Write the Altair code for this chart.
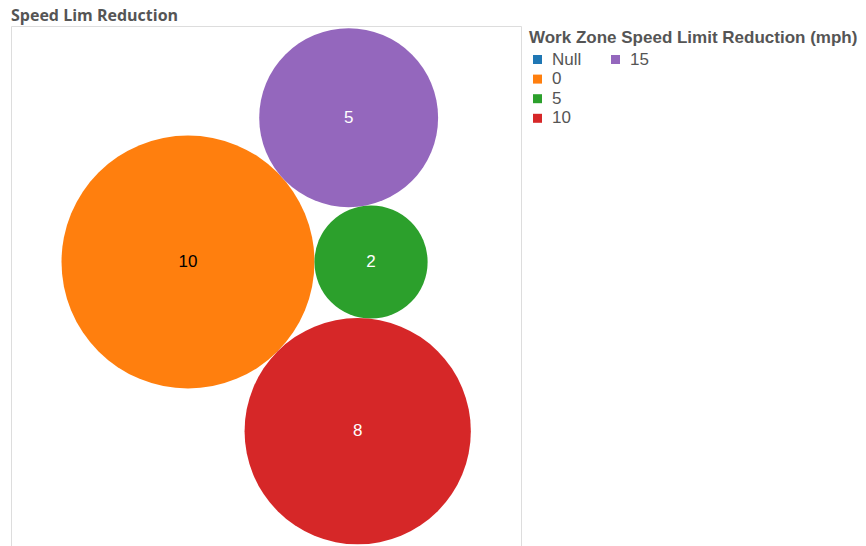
import math
import altair as alt
import pandas as pd

# ---- data ----
legend_categories = ["Null", "0", "5", "10", "15"]
legend_colors = ["#1f77b4", "#ff7f0e", "#2ca02c", "#d62728", "#9467bd"]
bubble_categories = ["0", "5", "15", "10"]   # packing order: largest, then neighbours
bubble_counts = [10, 2, 5, 8]

# ---- simple tangent circle packing (layout, computed) ----
K = 40.0  # px of radius per sqrt(count)
radii = [K * math.sqrt(v) for v in bubble_counts]


def tangent(ax, ay, ra, bx, by, rb, r, side):
    da, db = ra + r, rb + r
    dx, dy = bx - ax, by - ay
    d = math.hypot(dx, dy)
    a = (da * da - db * db + d * d) / (2 * d)
    h = math.sqrt(max(da * da - a * a, 0))
    ux, uy = dx / d, dy / d
    return ax + a * ux - side * h * uy, ay + a * uy + side * h * ux


xs = [0.0, radii[0] + radii[1]]
ys = [0.0, 0.0]
for i, side in zip(range(2, len(radii)), [-1, 1]):
    px, py = tangent(xs[0], ys[0], radii[0], xs[1], ys[1], radii[1], radii[i], side)
    xs.append(px)
    ys.append(py)

df = pd.DataFrame({"cat": bubble_categories, "count": bubble_counts, "px": xs, "py": ys})

W, H = 510, 520
x_scale = alt.Scale(domain=[-177, W - 177], nice=False, zero=False)
y_scale = alt.Scale(domain=[-236, H - 236], nice=False, zero=False, reverse=True)
size_scale = alt.Scale(domain=[0, max(bubble_counts)], range=[0, 4 * K * K * max(bubble_counts)], zero=True)

X = alt.X("px:Q", scale=x_scale, axis=None)
Y = alt.Y("py:Q", scale=y_scale, axis=None)

base = alt.Chart(df)

circles_main = base.transform_filter(alt.datum.cat != "15").mark_circle(opacity=1).encode(
    x=X, y=Y,
    size=alt.Size("count:Q", scale=size_scale, legend=None),
    color=alt.Color(
        "cat:N",
        scale=alt.Scale(domain=legend_categories, range=legend_colors),
        legend=alt.Legend(
            title="Work Zone Speed Limit Reduction (mph)",
            values=["Null", "0", "5", "10"],
            orient="none", legendX=518, legendY=4,
        ),
    ),
)

circles_15 = base.transform_filter(alt.datum.cat == "15").mark_circle(opacity=1).encode(
    x=X, y=Y,
    size=alt.Size("count:Q", scale=size_scale, legend=None),
    color=alt.Color(
        "cat:N",
        scale=alt.Scale(domain=["15"], range=["#9467bd"]),
        legend=alt.Legend(title=None, orient="none", legendX=596, legendY=25),
    ),
)

labels = base.mark_text(font="Liberation Sans", fontSize=17, baseline="middle", align="center").encode(
    x=X, y=Y,
    text="count:Q",
    color=alt.condition(alt.datum.cat == "0", alt.value("#000000"), alt.value("#ffffff")),
)

chart = (
    alt.layer(circles_main, circles_15, labels)
    .resolve_scale(color="independent", size="shared")
    .properties(
        width=W, height=H,
        autosize=alt.AutoSizeParams(type="none"),
        padding={"left": 11, "top": 26, "right": 345, "bottom": 0},
        title=alt.TitleParams(
            "Speed Lim Reduction", anchor="start", font="Open Sans", fontSize=16,
            fontWeight="bold", color="#555555", offset=-11, baseline="alphabetic",
        ),
    )
    .configure_view(stroke="#dddddd", strokeWidth=1)
    .configure_legend(
        symbolType="square", symbolSize=81, symbolStrokeWidth=0, symbolOpacity=1,
        labelFont="Liberation Sans", labelFontSize=17, labelColor="#555555",
        titleFont="Liberation Sans", titleFontSize=17, titleFontWeight="bold", titleColor="#555555",
        titleLimit=400, titlePadding=4, rowPadding=1.6, padding=0, labelOffset=6,
    )
)

chart.save("out.html", embed_options={"renderer": "svg", "actions": False})
